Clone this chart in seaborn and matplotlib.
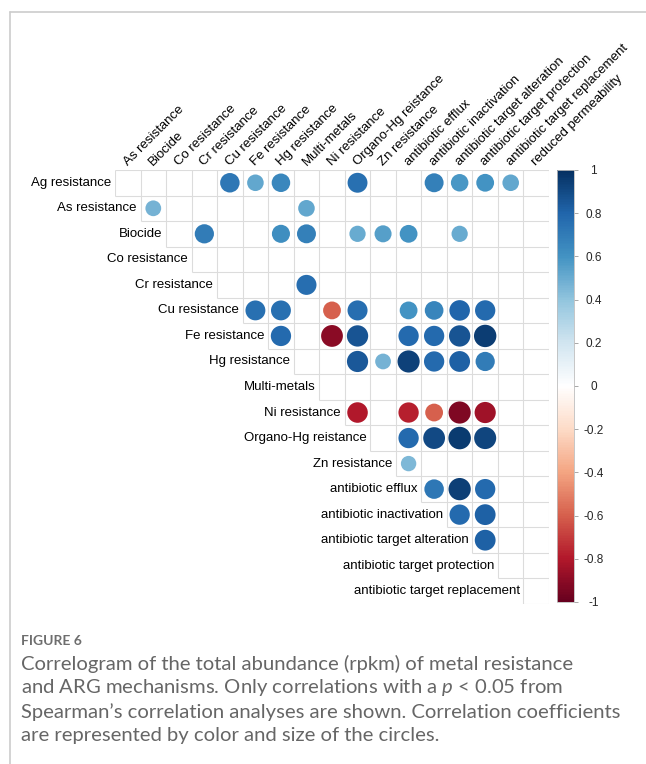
import numpy as np
import pandas as pd
import matplotlib
matplotlib.use("Agg")
import matplotlib.pyplot as plt
from matplotlib.colors import LinearSegmentedColormap, ListedColormap, Normalize
from matplotlib.lines import Line2D
import seaborn as sns

# Row / column variables of the correlogram (upper triangle only)
row_labels = ["Ag resistance", "As resistance", "Biocide", "Co resistance", "Cr resistance",
              "Cu resistance", "Fe resistance", "Hg resistance", "Multi-metals", "Ni resistance",
              "Organo-Hg reistance", "Zn resistance", "antibiotic efflux", "antibiotic inactivation",
              "antibiotic target alteration", "antibiotic target protection",
              "antibiotic target replacement"]
col_labels = ["As resistance", "Biocide", "Co resistance", "Cr resistance", "Cu resistance",
              "Fe resistance", "Hg resistance", "Multi-metals", "Ni resistance",
              "Organo-Hg reistance", "Zn resistance", "antibiotic efflux", "antibiotic inactivation",
              "antibiotic target alteration", "antibiotic target protection",
              "antibiotic target replacement", "reduced permeability"]

# Significant (p < 0.05) Spearman correlations
pair_row = [0, 0, 0, 0, 0, 0, 0, 0,
            1, 1,
            2, 2, 2, 2, 2, 2, 2,
            4,
            5, 5, 5, 5, 5, 5, 5, 5,
            6, 6, 6, 6, 6, 6, 6,
            7, 7, 7, 7, 7, 7,
            9, 9, 9, 9, 9,
            10, 10, 10, 10,
            11,
            12, 12, 12,
            13, 13,
            14]
pair_col = [4, 5, 6, 9, 12, 13, 14, 15,
            1, 7,
            3, 6, 7, 9, 10, 11, 13,
            7,
            5, 6, 8, 9, 11, 12, 13, 14,
            6, 8, 9, 11, 12, 13, 14,
            9, 10, 11, 12, 13, 14,
            9, 11, 12, 13, 14,
            11, 12, 13, 14,
            11,
            12, 13, 14,
            13, 14,
            14]
pair_r = [0.72, 0.52, 0.65, 0.75, 0.68, 0.58, 0.6, 0.52,
          0.47, 0.52,
          0.7, 0.62, 0.68, 0.5, 0.55, 0.6, 0.5,
          0.76,
          0.75, 0.75, -0.6, 0.76, 0.6, 0.66, 0.8, 0.78,
          0.78, -0.9, 0.86, 0.78, 0.78, 0.86, 0.95,
          0.85, 0.47, 0.93, 0.78, 0.82, 0.7,
          -0.8, -0.78, -0.6, -0.93, -0.85,
          0.78, 0.9, 0.96, 0.92,
          0.45,
          0.72, 0.94, 0.78,
          0.78, 0.82,
          0.82]

cbar_ticks = [1, 0.8, 0.6, 0.4, 0.2, 0, -0.2, -0.4, -0.6, -0.8, -1]
cbar_ticklabels = ["1", "0.8", "0.6", "0.4", "0.2", "0", "-0.2", "-0.4", "-0.6", "-0.8", "-1"]

caption_title = "FIGURE 6"
caption_lines = [
    "Correlogram of the total abundance (rpkm) of metal resistance",
    "and ARG mechanisms. Only correlations with a $\\mathit{p}$ < 0.05 from",
    "Spearman\u2019s correlation analyses are shown. Correlation coefficients",
    "are represented by color and size of the circles.",
]

# corrplot's default RdBu ramp
corrplot_colors = ["#67001F", "#B2182B", "#D6604D", "#F4A582", "#FDDBC7", "#FFFFFF",
                   "#D1E5F0", "#92C5DE", "#4393C3", "#2166AC", "#053061"]
cmap = LinearSegmentedColormap.from_list("corrplot_rdbu", corrplot_colors)

sns.set_theme(style="white")
plt.rcParams["font.family"] = ["Liberation Sans", "DejaVu Sans"]
plt.rcParams["mathtext.fontset"] = "custom"
plt.rcParams["mathtext.it"] = "Lato:italic"
plt.rcParams["mathtext.rm"] = "Lato"

W, H = 646, 764
fig = plt.figure(figsize=(W / 100, H / 100), dpi=100)
fig.patch.set_facecolor("white")

# grid area in pixels
gx0, gy0, gsize = 115, 170, 434
ax = fig.add_axes([gx0 / W, 1 - (gy0 + gsize) / H, gsize / W, gsize / H])

n = len(row_labels)
lower = np.tril(np.ones((n, n), dtype=bool), k=-1)
sns.heatmap(np.zeros((n, n)), mask=lower, cmap=ListedColormap(["white"]), cbar=False,
            linewidths=0, xticklabels=False, yticklabels=False, ax=ax)

# staircase grid: row i holds columns i..n-1
k = np.arange(n + 1)
grid_kw = dict(color="#dcdcdc", lw=0.8, zorder=2)
ax.hlines(k, np.maximum(k - 1, 0), n, **grid_kw)
ax.vlines(k, 0, np.minimum(k + 1, n), **grid_kw)

df = pd.DataFrame({"row": pair_row, "col": pair_col, "r": pair_r})
df["x"] = df["col"] + 0.5
df["y"] = df["row"] + 0.5
df["absr"] = df["r"].abs()

# corrplot: circle area proportional to |r|, diameter 0.9 cell at |r| = 1
cell_pt = gsize / n * 0.72
s_max = (0.9 * cell_pt) ** 2
sns.scatterplot(data=df, x="x", y="y", hue="r", palette=cmap, hue_norm=(-1, 1),
                size="absr", sizes=(0, s_max), size_norm=(0, 1), linewidth=0,
                legend=False, ax=ax, zorder=3)
ax.set_xlim(0, n)
ax.set_ylim(n, 0)
ax.set_xlabel("")
ax.set_ylabel("")
ax.set_xticks([])
ax.set_yticks([])

for i, lab in enumerate(row_labels):
    ax.text(i - 0.15, i + 0.5, lab, ha="right", va="center", fontsize=9.5, color="black")
for j, lab in enumerate(col_labels):
    ax.text(j + 0.5, -0.15, lab, ha="left", va="baseline", rotation=45,
            rotation_mode="anchor", fontsize=9.5, color="black")

# colour bar
cax = fig.add_axes([557 / W, 1 - 602 / H, 17 / W, 432 / H])
sm = matplotlib.cm.ScalarMappable(norm=Normalize(-1, 1), cmap=cmap)
cb = fig.colorbar(sm, cax=cax, ticks=cbar_ticks)
cb.ax.set_yticklabels(cbar_ticklabels)
cb.outline.set_edgecolor("#bdbdbd")
cb.outline.set_linewidth(0.6)
cax.tick_params(axis="y", right=True, length=3, width=0.6, color="#9a9a9a",
                labelsize=8.5, pad=11, direction="out")
for t in cax.get_yticklabels():
    t.set_horizontalalignment("center")

# page frame lines
fig.add_artist(Line2D([9.5 / W, 1], [1 - 12 / H] * 2, color="#cccccc", lw=1.2))
fig.add_artist(Line2D([9.5 / W] * 2, [0, 1 - 12 / H], color="#cccccc", lw=1.2))

# caption
fig.text(21 / W, 1 - 641 / H, caption_title, fontsize=10, fontweight="bold",
         color="#6e6e6e", family=["Lato", "DejaVu Sans"], va="center")
for k, line in enumerate(caption_lines):
    fig.text(21 / W, 1 - (664 + 24 * k) / H, line, fontsize=14.6, color="#666666",
             family=["Lato", "DejaVu Sans"], va="center")

fig.savefig("out.png", dpi=100, facecolor="white")
